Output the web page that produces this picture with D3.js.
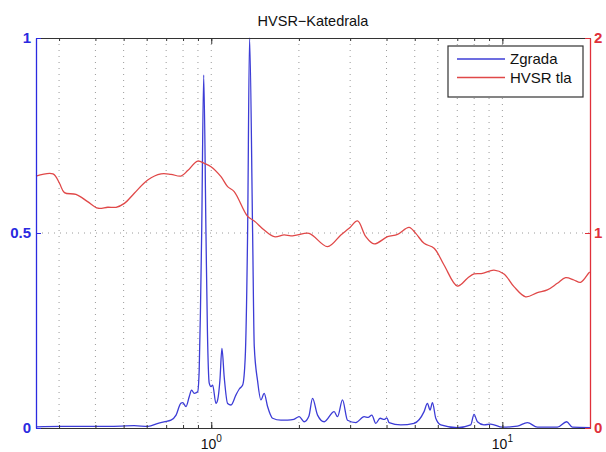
<!DOCTYPE html>
<html><head><meta charset="utf-8">
<script src="https://cdn.jsdelivr.net/npm/d3@7"></script>
<style>
body{margin:0;background:#fff;}
svg{display:block;font-family:"Liberation Sans",Arial,sans-serif;}
</style></head>
<body><svg id="c" width="606" height="452"></svg>
<script>
// ---- data ----
const title = "HVSR−Katedrala";
const seriesNames = ["Zgrada", "HVSR tla"];
const zgradaFreq = [0.25,0.305,0.405,0.49,0.543,0.607,0.656,0.688,0.727,0.757,0.787,0.798,0.819,0.84,0.856,0.874,0.898,0.909,0.918,0.927,0.942,0.959,0.97,0.984,0.998,1.011,1.038,1.052,1.071,1.088,1.108,1.138,1.169,1.216,1.248,1.282,1.308,1.333,1.354,1.387,1.405,1.443,1.481,1.52,1.561,1.624,1.735,1.829,1.922,2.004,2.085,2.164,2.228,2.318,2.443,2.643,2.715,2.824,2.938,3.138,3.35,3.458,3.561,3.675,3.802,3.925,4.009,4.083,4.477,4.973,5.383,5.529,5.644,5.753,5.905,6.143,7.009,7.785,7.991,8.209,8.646,9.119,10.0,11.26,12.19,13.19,15.45,16.62,17.39,20];
const zgradaVal  = [0.003,0.004,0.004,0.005,0.006,0.004,0.012,0.016,0.02,0.033,0.064,0.065,0.055,0.08,0.097,0.089,0.093,0.149,0.3,0.5,0.905,0.5,0.25,0.115,0.106,0.11,0.063,0.072,0.123,0.204,0.13,0.063,0.059,0.085,0.1,0.11,0.18,0.5,1.0,0.5,0.21,0.12,0.072,0.089,0.055,0.025,0.02,0.02,0.022,0.029,0.016,0.03,0.076,0.033,0.016,0.042,0.029,0.072,0.02,0.014,0.029,0.027,0.033,0.012,0.025,0.022,0.026,0.014,0.008,0.012,0.042,0.063,0.046,0.065,0.025,0.008,0.001,0.008,0.035,0.016,0.008,0.01,0.002,0.005,0.014,0.002,0.002,0.016,0.002,0.001];
const tlaFreq = [0.25,0.286,0.301,0.313,0.343,0.376,0.408,0.441,0.471,0.503,0.544,0.605,0.672,0.727,0.787,0.83,0.898,0.946,0.998,1.08,1.138,1.199,1.333,1.405,1.52,1.646,1.78,1.877,1.98,2.169,2.508,2.787,2.976,3.18,3.396,3.626,4.032,4.363,4.781,5.041,5.383,5.827,6.304,7.009,7.586,7.991,8.539,9.359,10.13,10.96,12.02,13.19,14.27,15.45,16.49,17.61,18.57,19.83,20];
const tlaVal  = [1.292,1.303,1.255,1.207,1.198,1.161,1.127,1.132,1.132,1.152,1.204,1.272,1.303,1.301,1.292,1.32,1.369,1.357,1.34,1.289,1.238,1.212,1.085,1.062,1.015,0.981,0.99,0.985,0.99,0.998,0.93,0.99,1.024,1.062,0.981,0.944,0.981,0.993,1.029,0.998,0.947,0.922,0.836,0.728,0.768,0.79,0.793,0.81,0.79,0.725,0.673,0.694,0.708,0.742,0.771,0.759,0.747,0.796,0.80];
const xDomain = [0.25, 20];
const xGrid = [0.3,0.4,0.5,0.6,0.7,0.8,0.9,1,2,3,4,5,6,7,8,9,10];
const xMajor = [1, 10];
const xMajorLabels = [["10","0"],["10","1"]];
const yLeftTicks = [0, 0.5, 1];
const yLeftLabels = ["0","0.5","1"];
const yRightTicks = [0, 1, 2];

// ---- layout ----
const L = 36, R = 590, T = 38, B = 428;
const blue = "#2a2ae0", red = "#e0303a";
const svg = d3.select("#c");
const x = d3.scaleLog().domain(xDomain).range([L, R]);
const yL = d3.scaleLinear().domain([0, 1]).range([B, T]);
const yR = d3.scaleLinear().domain([0, 2]).range([B, T]);

// grid
const grid = svg.append("g");
grid.selectAll("line.v").data(xGrid).join("line")
  .attr("x1", d => x(d)).attr("x2", d => x(d)).attr("y1", T).attr("y2", B)
  .attr("stroke", "#9a9a9a").attr("stroke-width", 1).attr("stroke-dasharray", "1,5");
grid.append("line").attr("x1", L).attr("x2", R).attr("y1", yL(0.5)).attr("y2", yL(0.5))
  .attr("stroke", "#9a9a9a").attr("stroke-width", 1).attr("stroke-dasharray", "1,5");

// lines
const zData = zgradaFreq.map((f, i) => [f, zgradaVal[i]]);
const tData = tlaFreq.map((f, i) => [f, tlaVal[i]]);
svg.append("path").datum(zData)
  .attr("d", d3.line().x(d => x(d[0])).y(d => yL(d[1])).curve(d3.curveMonotoneX))
  .attr("fill", "none").attr("stroke", "#3c3cd6").attr("stroke-width", 1.3);
svg.append("path").datum(tData)
  .attr("d", d3.line().x(d => x(d[0])).y(d => yR(d[1])).curve(d3.curveCatmullRom.alpha(0.5)))
  .attr("fill", "none").attr("stroke", "#e04848").attr("stroke-width", 1.3);

// x axes (bottom and top)
function xAxes(gen, y) {
  const gMin = svg.append("g").attr("transform", `translate(0,${y})`)
    .call(gen(x).tickValues(xGrid).tickSize(-3).tickSizeOuter(0).tickFormat(""));
  const gMaj = svg.append("g").attr("transform", `translate(0,${y})`)
    .call(gen(x).tickValues(xMajor).tickSize(-6).tickSizeOuter(0).tickFormat(""));
  [gMin, gMaj].forEach(g => {
    g.select(".domain").attr("stroke", "#333").attr("stroke-width", 1.2);
    g.selectAll(".tick line").attr("stroke", "#333");
  });
  return gMaj;
}
xAxes(d3.axisBottom, B);
xAxes(d3.axisTop, T);

// x labels with superscripts
const xl = svg.append("g");
xMajor.forEach((v, i) => {
  const t = xl.append("text").attr("x", x(v)).attr("y", 449).attr("text-anchor", "middle")
    .attr("font-size", 14).attr("fill", "#111");
  t.append("tspan").text(xMajorLabels[i][0]);
  t.append("tspan").attr("dy", -7).attr("font-size", 10).text(xMajorLabels[i][1]);
});

// left axis
const gl = svg.append("g").attr("transform", `translate(${L},0)`)
  .call(d3.axisLeft(yL).tickValues(yLeftTicks).tickSize(-5).tickSizeOuter(0).tickPadding(5)
    .tickFormat((d, i) => yLeftLabels[i]));
gl.select(".domain").attr("stroke", blue).attr("stroke-width", 1.3);
gl.selectAll(".tick line").attr("stroke", blue);
gl.selectAll(".tick text").attr("fill", blue).attr("font-size", 15).attr("font-weight", "bold")
  .attr("font-family", "Liberation Sans, Arial, sans-serif");

// right axis
const gr = svg.append("g").attr("transform", `translate(${R},0)`)
  .call(d3.axisRight(yR).tickValues(yRightTicks).tickSize(-5).tickSizeOuter(0).tickPadding(4)
    .tickFormat(d3.format("d")));
gr.select(".domain").attr("stroke", red).attr("stroke-width", 1.3);
gr.selectAll(".tick line").attr("stroke", red);
gr.selectAll(".tick text").attr("fill", red).attr("font-size", 15).attr("font-weight", "bold")
  .attr("font-family", "Liberation Sans, Arial, sans-serif");

// title
svg.append("text").attr("x", (L + R) / 2).attr("y", 26).attr("text-anchor", "middle")
  .attr("font-size", 14.5).attr("fill", "#111").text(title);

// legend
const lg = svg.append("g");
lg.append("rect").attr("x", 448).attr("y", 46).attr("width", 135).attr("height", 51)
  .attr("fill", "#fff").attr("stroke", "#333").attr("stroke-width", 1.2);
const lColors = ["#3c3cd6", "#e04848"];
seriesNames.forEach((n, i) => {
  const yy = 59 + i * 18.5;
  lg.append("line").attr("x1", 457).attr("x2", 505).attr("y1", yy).attr("y2", yy)
    .attr("stroke", lColors[i]).attr("stroke-width", 1.3);
  lg.append("text").attr("x", 510).attr("y", yy + 5).attr("font-size", 15).attr("fill", "#111").text(n);
});
</script></body></html>
